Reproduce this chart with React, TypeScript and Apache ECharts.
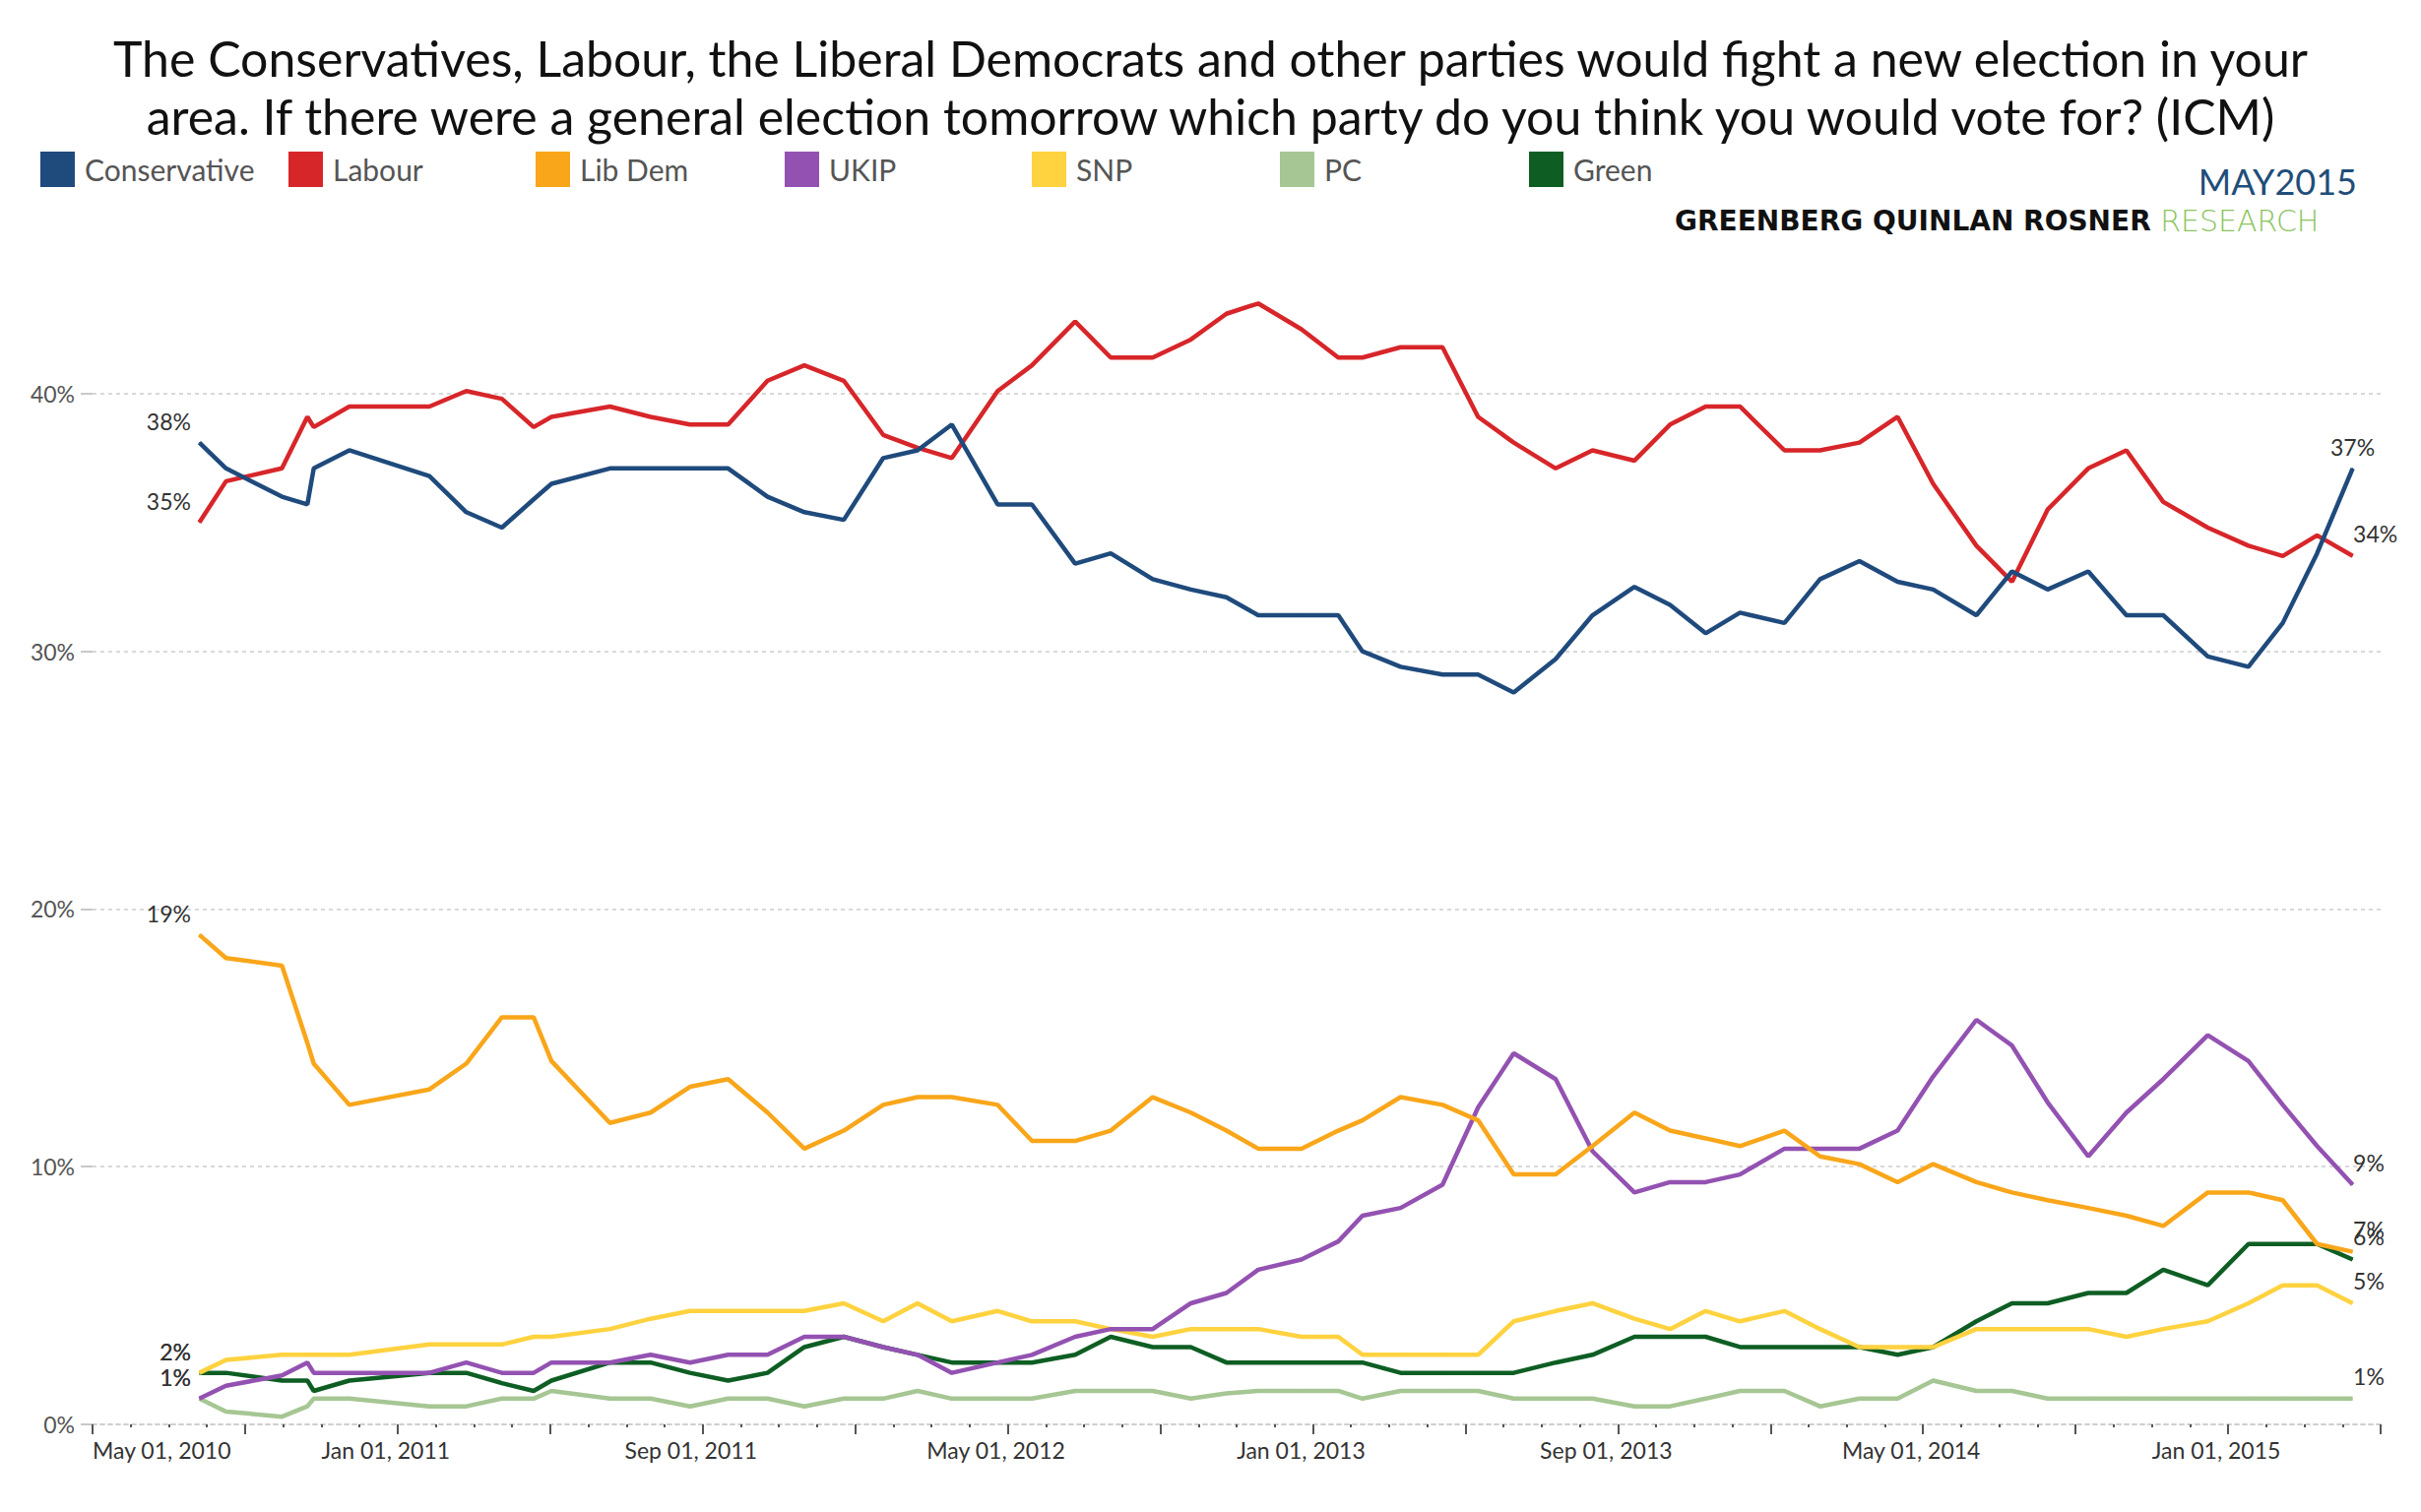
import React, { useEffect, useRef } from "react";
import * as echarts from "echarts";

const pollDates = [
  "2010-07-25", "2010-08-16", "2010-09-30", "2010-10-20", "2010-10-25", "2010-11-23",
  "2011-01-26", "2011-02-25", "2011-03-23", "2011-04-18", "2011-05-02", "2011-06-18",
  "2011-07-20", "2011-08-21", "2011-09-21", "2011-10-22", "2011-11-21", "2011-12-22",
  "2012-01-23", "2012-02-20", "2012-03-17", "2012-04-23", "2012-05-20", "2012-06-24",
  "2012-07-22", "2012-08-25", "2012-09-25", "2012-10-23", "2012-11-18", "2012-12-22",
  "2013-01-21", "2013-02-10", "2013-03-10", "2013-04-13", "2013-05-11", "2013-06-09",
  "2013-07-12", "2013-08-11", "2013-09-14", "2013-10-12", "2013-11-10", "2013-12-07",
  "2014-01-12", "2014-02-10", "2014-03-11", "2014-04-11", "2014-05-09", "2014-06-13",
  "2014-07-11", "2014-08-09", "2014-09-11", "2014-10-11", "2014-11-10", "2014-12-15",
  "2015-01-17", "2015-02-14", "2015-03-11", "2015-04-09",
];

const conservative = [
  38.1, 37.1, 36.0, 35.7, 37.1, 37.8, 36.8, 35.4, 34.8, 35.9,
  36.5, 37.1, 37.1, 37.1, 37.1, 36.0, 35.4, 35.1, 37.5, 37.8,
  38.8, 35.7, 35.7, 33.4, 33.8, 32.8, 32.4, 32.1, 31.4, 31.4,
  31.4, 30.0, 29.4, 29.1, 29.1, 28.4, 29.7, 31.4, 32.5, 31.8,
  30.7, 31.5, 31.1, 32.8, 33.5, 32.7, 32.4, 31.4, 33.1, 32.4,
  33.1, 31.4, 31.4, 29.8, 29.4, 31.1, 33.8, 37.1,
];
const labour = [
  35.0, 36.6, 37.1, 39.1, 38.7, 39.5, 39.5, 40.1, 39.8, 38.7,
  39.1, 39.5, 39.1, 38.8, 38.8, 40.5, 41.1, 40.5, 38.4, 37.9,
  37.5, 40.1, 41.1, 42.8, 41.4, 41.4, 42.1, 43.1, 43.5, 42.5,
  41.4, 41.4, 41.8, 41.8, 39.1, 38.1, 37.1, 37.8, 37.4, 38.8,
  39.5, 39.5, 37.8, 37.8, 38.1, 39.1, 36.5, 34.1, 32.7, 35.5,
  37.1, 37.8, 35.8, 34.8, 34.1, 33.7, 34.5, 33.7,
];
const libDem = [
  19.0, 18.1, 17.8, 14.8, 14.0, 12.4, 13.0, 14.0, 15.8, 15.8,
  14.1, 11.7, 12.1, 13.1, 13.4, 12.1, 10.7, 11.4, 12.4, 12.7,
  12.7, 12.4, 11.0, 11.0, 11.4, 12.7, 12.1, 11.4, 10.7, 10.7,
  11.4, 11.8, 12.7, 12.4, 11.8, 9.7, 9.7, 10.8, 12.1, 11.4,
  11.1, 10.8, 11.4, 10.4, 10.1, 9.4, 10.1, 9.4, 9.0, 8.7,
  8.4, 8.1, 7.7, 9.0, 9.0, 8.7, 7.0, 6.7,
];
const ukip = [
  1.0, 1.5, 1.9, 2.4, 2.0, 2.0, 2.0, 2.4, 2.0, 2.0,
  2.4, 2.4, 2.7, 2.4, 2.7, 2.7, 3.4, 3.4, 3.0, 2.7,
  2.0, 2.4, 2.7, 3.4, 3.7, 3.7, 4.7, 5.1, 6.0, 6.4,
  7.1, 8.1, 8.4, 9.3, 12.3, 14.4, 13.4, 10.6, 9.0, 9.4,
  9.4, 9.7, 10.7, 10.7, 10.7, 11.4, 13.5, 15.7, 14.7, 12.5,
  10.4, 12.1, 13.4, 15.1, 14.1, 12.4, 10.8, 9.3,
];
const snp = [
  2.0, 2.5, 2.7, 2.7, 2.7, 2.7, 3.1, 3.1, 3.1, 3.4,
  3.4, 3.7, 4.1, 4.4, 4.4, 4.4, 4.4, 4.7, 4.0, 4.7,
  4.0, 4.4, 4.0, 4.0, 3.7, 3.4, 3.7, 3.7, 3.7, 3.4,
  3.4, 2.7, 2.7, 2.7, 2.7, 4.0, 4.4, 4.7, 4.1, 3.7,
  4.4, 4.0, 4.4, 3.7, 3.0, 3.0, 3.0, 3.7, 3.7, 3.7,
  3.7, 3.4, 3.7, 4.0, 4.7, 5.4, 5.4, 4.7,
];
const pc = [
  1.0, 0.5, 0.3, 0.7, 1.0, 1.0, 0.7, 0.7, 1.0, 1.0,
  1.3, 1.0, 1.0, 0.7, 1.0, 1.0, 0.7, 1.0, 1.0, 1.3,
  1.0, 1.0, 1.0, 1.3, 1.3, 1.3, 1.0, 1.2, 1.3, 1.3,
  1.3, 1.0, 1.3, 1.3, 1.3, 1.0, 1.0, 1.0, 0.7, 0.7,
  1.0, 1.3, 1.3, 0.7, 1.0, 1.0, 1.7, 1.3, 1.3, 1.0,
  1.0, 1.0, 1.0, 1.0, 1.0, 1.0, 1.0, 1.0,
];
const green = [
  2.0, 2.0, 1.7, 1.7, 1.3, 1.7, 2.0, 2.0, 1.6, 1.3,
  1.7, 2.4, 2.4, 2.0, 1.7, 2.0, 3.0, 3.4, 3.0, 2.7,
  2.4, 2.4, 2.4, 2.7, 3.4, 3.0, 3.0, 2.4, 2.4, 2.4,
  2.4, 2.4, 2.0, 2.0, 2.0, 2.0, 2.4, 2.7, 3.4, 3.4,
  3.4, 3.0, 3.0, 3.0, 3.0, 2.7, 3.0, 4.0, 4.7, 4.7,
  5.1, 5.1, 6.0, 5.4, 7.0, 7.0, 7.0, 6.4,
];

const seriesNames = ["Conservative", "Labour", "Lib Dem", "UKIP", "SNP", "PC", "Green"];
const seriesColors = ["#1f4a7c", "#d7262a", "#f9a61a", "#9352b1", "#ffd23f", "#a6c693", "#0e5e24"];
const seriesValues = [conservative, labour, libDem, ukip, snp, pc, green];

const xTickLabels = [
  "May 01, 2010", "Jan 01, 2011", "Sep 01, 2011", "May 01, 2012",
  "Jan 01, 2013", "Sep 01, 2013", "May 01, 2014", "Jan 01, 2015",
];
const yTicks = [0, 10, 20, 30, 40];

const titleLines = [
  "The Conservatives, Labour, the Liberal Democrats and other parties would fight a new election in your",
  "area. If there were a general election tomorrow which party do you think you would vote for? (ICM)",
];

// months since May 1, 2010
function toMonths(date: string): number {
  const [y, m, d] = date.split("-").map(Number);
  return (y - 2010) * 12 + (m - 5) + (d - 1) / 30;
}

const FONT = "Lato, 'Open Sans', sans-serif";
const labelText = { fontFamily: FONT, fontSize: 23, color: "#333" };
const pctFormatter = (p: any) => Math.round(p.value[1]) + "%";

function buildData(values: number[], endPos: string) {
  return pollDates.map((d, i) => {
    const item: any = { value: [toMonths(d), values[i]] };
    if (i === 0) {
      item.label = {
        show: true, position: "left", distance: 8, offset: [0, -22],
        formatter: pctFormatter, ...labelText,
      };
    }
    if (i === values.length - 1) {
      item.label =
        endPos === "top"
          ? { show: true, position: "top", distance: 10, formatter: pctFormatter, ...labelText }
          : {
              show: true, position: "right", distance: 0, offset: [0, -23],
              formatter: pctFormatter, ...labelText,
            };
    }
    return item;
  });
}

const legendLefts = [36, 288, 539, 792, 1043, 1295, 1548];

export default function App() {
  const ref = useRef<HTMLDivElement>(null);

  useEffect(() => {
    if (!ref.current) return;
    const chart = echarts.init(ref.current, null, { renderer: "svg" });

    const series = seriesNames.map((name, k) => ({
      name,
      type: "line",
      color: seriesColors[k],
      data: buildData(seriesValues[k], k === 0 ? "top" : "right"),
      symbol: "circle",
      symbolSize: 1,
      showSymbol: true,
      lineStyle: { width: 4.5, color: seriesColors[k] },
      itemStyle: { color: seriesColors[k] },
      label: { show: false },
      silent: true,
      z: 10 - k,
    }));

    const legends = seriesNames.map((name, k) => ({
      data: [name],
      left: legendLefts[k],
      top: 149,
      icon: "rect",
      itemWidth: 35,
      itemHeight: 36,
      selectedMode: false,
      textStyle: {
        fontFamily: FONT,
        fontSize: 30,
        color: "#555",
        padding: [0, 0, 0, 5],
      },
    }));

    chart.setOption({
      animation: false,
      backgroundColor: "#ffffff",
      title: {
        text: titleLines.join("\n"),
        left: "center",
        top: 24,
        textStyle: {
          fontFamily: FONT,
          fontSize: 50,
          fontWeight: "normal",
          color: "#111",
          lineHeight: 59,
        },
      },
      legend: legends,
      graphic: [
        {
          type: "text",
          right: 65,
          top: 166,
          style: { text: "MAY2015", fontFamily: FONT, fontSize: 36, fill: "#1f4e79" },
        },
        {
          type: "text",
          left: 1701,
          top: 209,
          style: {
            text: "{a|GREENBERG QUINLAN ROSNER}{b| RESEARCH}",
            rich: {
              a: { fontFamily: "'DejaVu Sans', sans-serif", fontWeight: "bold", fontSize: 28, fill: "#111" },
              b: { fontFamily: "'DejaVu Sans', sans-serif", fontWeight: 200, fontSize: 30, fill: "#8cc460" },
            },
          },
        },
      ],
      grid: { left: 94, right: 41, top: 269, bottom: 89, containLabel: false },
      xAxis: {
        type: "value",
        min: 0,
        max: 60,
        interval: 4,
        axisLine: { show: true, lineStyle: { color: "#cfcfcf", width: 2, type: [4, 4] } },
        axisTick: { show: true, length: 10, lineStyle: { color: "#555", width: 2 } },
        minorTick: { show: true, splitNumber: 4, length: 3, lineStyle: { color: "#555", width: 2 } },
        splitLine: { show: false },
        axisLabel: {
          fontFamily: FONT,
          fontSize: 23,
          color: "#333",
          margin: 14,
          alignMinLabel: "left",
          padding: [0, 24, 0, 0],
          formatter: (v: number) => (v % 8 === 0 ? xTickLabels[v / 8] ?? "" : ""),
        },
      },
      yAxis: {
        type: "value",
        min: 0,
        max: 45,
        interval: 10,
        axisLine: { show: false },
        axisTick: {
          show: true,
          length: 12,
          customValues: yTicks,
          lineStyle: { color: "#c8c8c8", width: 2 },
        },
        axisLabel: {
          customValues: yTicks,
          fontFamily: FONT,
          fontSize: 23,
          color: "#555",
          margin: 18,
          formatter: (v: number) => v + "%",
        },
        splitLine: {
          show: true,
          showMinLine: false,
          lineStyle: { color: "#d9d9d9", width: 2, type: [4, 4] },
        },
      },
      series,
    });

    return () => chart.dispose();
  }, []);

  return (
    <div
      ref={ref}
      style={{ position: "fixed", left: 0, top: 0, width: "2459px", height: "1536px", background: "#fff" }}
    />
  );
}
